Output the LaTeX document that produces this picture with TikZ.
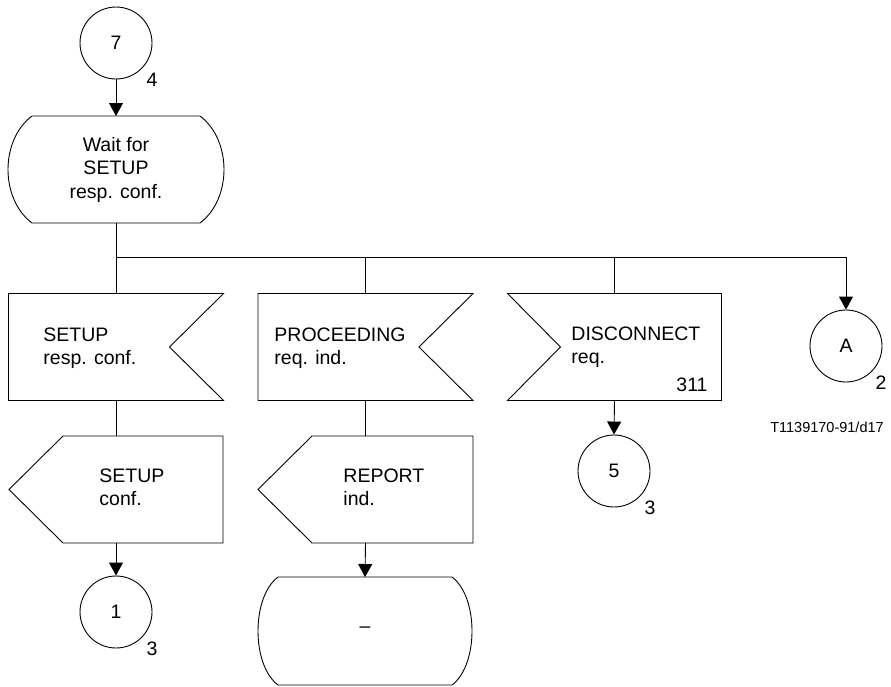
\documentclass[tikz,border=0pt]{standalone}
\usepackage{fontspec}
\setmainfont{Liberation Sans}
\usetikzlibrary{arrows.meta,calc}

% SDL outlines drawn around invisible frame nodes
% state: straight top/bottom, bulging sides (#2 = corner inset)
\newcommand\sdlstate[2]{%
  \draw ($(#1.north west)+(#2,0)$) -- ($(#1.north east)+(-#2,0)$)
    .. controls ($(#1.north east)+(#2/3,#2)$) and ($(#1.south east)+(#2/3,-#2)$)
    .. ($(#1.south east)+(-#2,0)$) -- ($(#1.south west)+(#2,0)$)
    .. controls ($(#1.south west)+(-#2/3,-#2)$) and ($(#1.north west)+(-#2/3,#2)$)
    .. cycle;}
% input signal, notch on the right
\newcommand\sdlinright[2]{%
  \draw (#1.north west) -- (#1.north east) -- ($(#1.east)+(-#2,0)$)
    -- (#1.south east) -- (#1.south west) -- cycle;}
% input signal, notch on the left
\newcommand\sdlinleft[2]{%
  \draw (#1.north west) -- (#1.north east) -- (#1.south east)
    -- (#1.south west) -- ($(#1.west)+(#2,0)$) -- cycle;}
% output signal, point on the left
\newcommand\sdlout[2]{%
  \draw ($(#1.north west)+(#2,0)$) -- (#1.north east) -- (#1.south east)
    -- ($(#1.south west)+(#2,0)$) -- (#1.west) -- cycle;}

\begin{document}
\begin{tikzpicture}[x=1pt,y=-1pt,
  line width=0.9pt,
  every node/.style={font=\fontsize{19.5}{22.5}\selectfont, inner sep=0pt},
  conn/.style={draw, circle, minimum size=72pt},
  frame/.style={rectangle, outer sep=0pt, minimum width=#1, minimum height=107pt},
  flow/.style={-{Triangle[width=14pt,length=13pt]}},
  txt/.style={anchor=base west, align=left},
  small/.style={font=\fontsize{14.5}{17}\selectfont}
]
\useasboundingbox (0,0) rectangle (891,686);

% connectors (circles)
\node[conn] (c7) at (116,43) {7};
\node (n4) at ($(c7)+(36,37)$) {4};

\node[conn] (cA) at (846,346) {A};
\node (n2) at ($(cA)+(35,37)$) {2};

\node[conn] (c1) at (116,612) {1};
\node (n3a) at ($(c1)+(36,37)$) {3};

\node[conn] (c5) at (614,471) {5};
\node (n3b) at ($(c5)+(36,37)$) {3};

% state: wait for SETUP resp. conf.  (base anchor = last line)
\node[frame=216pt] (st1) at (116,169.5) {};
\sdlstate{st1}{24}
\node[anchor=base, align=center, font=\fontsize{19.5}{23.5}\selectfont] (st1t) at (116,198) {Wait for\\SETUP\\resp. conf.};

% input signals
\node[frame=215pt] (in1) at (116,347) {};
\sdlinright{in1}{54}
\node[txt] (in1t) at (43,364) {SETUP\\resp. conf.};

\node[frame=215pt] (in2) at (365.5,347) {};
\sdlinright{in2}{54}
\node[txt] (in2t) at (274,364) {PROCEEDING\\req. ind.};

\node[frame=214pt] (in3) at (614.5,347) {};
\sdlinleft{in3}{53}
\node[txt] (in3t) at (571,363) {DISCONNECT\\req.};
\node[anchor=base east] (in3n) at (708,391) {311};

% output signals
\node[frame=214pt] (out1) at (116,489.5) {};
\sdlout{out1}{54}
\node[txt] (out1t) at (99,505) {SETUP\\conf.};

\node[frame=215pt] (out2) at (365.5,489.5) {};
\sdlout{out2}{54}
\node[txt] (out2t) at (343,505) {REPORT\\ind.};

% final state
\node[frame=214pt, minimum height=108pt] (st2) at (365,631) {};
\sdlstate{st2}{20}
\node (st2t) at (365,630) {--};

% flow lines
\coordinate (bus) at (116,257);
\draw[flow] (c7) -- (st1.north);
\draw (st1.south) -- (in1.north);
\draw (bus) -| (in2.north);
\draw (bus) -| (in3.north);
\draw[flow] (bus) -| (cA.north);
\draw (in1.south) -- (out1.north);
\draw (in2.south) -- (out2.north);
\draw[flow] (out1.south) -- (c1.north);
\draw[flow] (out2.south) -- (st2.north);
\draw[flow] (in3.south) -- (c5.north);

% figure reference
\node[small] (figref) at (827,427) {T1139170-91/d17};
\end{tikzpicture}
\end{document}
